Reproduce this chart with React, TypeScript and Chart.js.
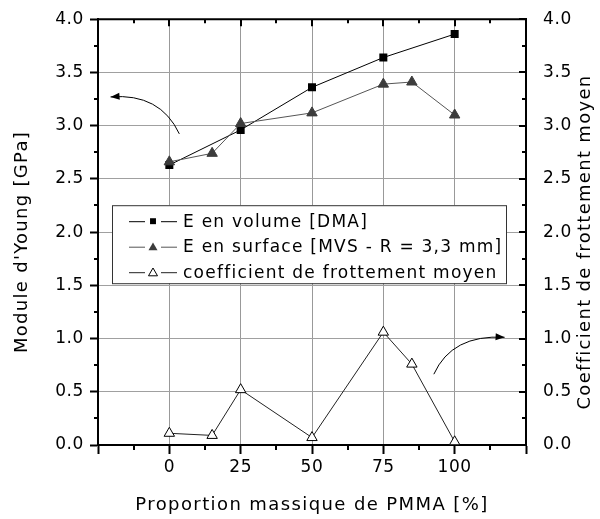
import React, { useEffect, useRef } from 'react';
import { Chart, registerables } from 'chart.js';
Chart.register(...registerables);

const FONT = "'DejaVu Sans', Verdana, sans-serif";

const dmaX = [0, 25, 50, 75, 100];
const dmaY = [2.63, 2.96, 3.36, 3.64, 3.86];
const surfX = [0, 15, 25, 50, 75, 85, 100];
const surfY = [2.66, 2.74, 3.02, 3.12, 3.39, 3.41, 3.1];
const coefX = [0, 15, 25, 50, 75, 85, 100];
const coefY = [0.11, 0.09, 0.52, 0.07, 1.06, 0.76, 0.03];
const xTickLabels = [0, 25, 50, 75, 100];
const seriesLabels = ['E en volume [DMA]', 'E en surface [MVS - R = 3,3 mm]', 'coefficient de frottement moyen'];
const xTitle = 'Proportion massique de PMMA [%]';
const yTitle = "Module d'Young [GPa]";
const y2Title = 'Coefficient de frottement moyen';

const TICK_SPACING = '0.6px';

function drawMarker(ctx: CanvasRenderingContext2D, kind: string, x: number, y: number, r: number) {
  ctx.beginPath();
  if (kind === 'rect') {
    const s = Math.SQRT1_2 * r;
    ctx.rect(x - s, y - s, 2 * s, 2 * s);
    ctx.fillStyle = '#000';
    ctx.fill();
    return;
  }
  let rad = 0;
  ctx.moveTo(x + Math.sin(rad) * r, y - Math.cos(rad) * r);
  rad += (2 * Math.PI) / 3;
  ctx.lineTo(x + Math.sin(rad) * r, y - Math.cos(rad) * r);
  rad += (2 * Math.PI) / 3;
  ctx.lineTo(x + Math.sin(rad) * r, y - Math.cos(rad) * r);
  ctx.closePath();
  if (kind === 'tri') {
    ctx.fillStyle = '#3c3c3c';
    ctx.fill();
  } else {
    ctx.fillStyle = '#fff';
    ctx.fill();
    ctx.lineWidth = 1;
    ctx.strokeStyle = '#000';
    ctx.stroke();
  }
}

function arrow(ctx: CanvasRenderingContext2D, p0: number[], c: number[], p1: number[]) {
  ctx.beginPath();
  ctx.moveTo(p0[0], p0[1]);
  ctx.quadraticCurveTo(c[0], c[1], p1[0], p1[1]);
  ctx.lineWidth = 1;
  ctx.strokeStyle = '#000';
  ctx.stroke();
  const ang = Math.atan2(p1[1] - c[1], p1[0] - c[0]);
  const L = 9, W = 3.5;
  ctx.beginPath();
  ctx.moveTo(p1[0], p1[1]);
  ctx.lineTo(p1[0] - L * Math.cos(ang) + W * Math.sin(ang), p1[1] - L * Math.sin(ang) - W * Math.cos(ang));
  ctx.lineTo(p1[0] - L * Math.cos(ang) - W * Math.sin(ang), p1[1] - L * Math.sin(ang) + W * Math.cos(ang));
  ctx.closePath();
  ctx.fillStyle = '#000';
  ctx.fill();
}

const decor = {
  id: 'decor',
  beforeLayout(chart: any) {
    chart.ctx.letterSpacing = TICK_SPACING;
  },
  beforeDraw(chart: any) {
    chart.ctx.letterSpacing = TICK_SPACING;
  },
  afterDraw(chart: any) {
    const { ctx, chartArea: ca, scales } = chart;
    const xs = scales.x;
    const ys = scales.y;
    ctx.save();
    ctx.strokeStyle = '#000';
    ctx.lineWidth = 2;
    // top border
    ctx.beginPath();
    ctx.moveTo(ca.left - 1, ca.top);
    ctx.lineTo(ca.right + 1, ca.top);
    ctx.stroke();
    // x minor / top ticks
    ctx.beginPath();
    for (let v = -25; v <= 125; v += 12.5) {
      const px = Math.round(xs.getPixelForValue(v));
      const major = v % 25 === 0;
      ctx.moveTo(px, ca.top);
      ctx.lineTo(px, ca.top + (major ? 7 : 4));
      if (!major) {
        ctx.moveTo(px, ca.bottom);
        ctx.lineTo(px, ca.bottom + 5);
      }
    }
    // y ticks
    for (let v = 0; v <= 4.001; v += 0.25) {
      const py = Math.round(ys.getPixelForValue(v));
      const major = Math.abs(v * 2 - Math.round(v * 2)) < 1e-6;
      if (!major) {
        ctx.moveTo(ca.left, py);
        ctx.lineTo(ca.left - 4, py);
      }
      ctx.moveTo(ca.right, py);
      ctx.lineTo(ca.right - (major ? 7 : 4), py);
    }
    ctx.stroke();

    // arrows
    const P = (x: number, y: number) => [xs.getPixelForValue(x), ys.getPixelForValue(y)];
    arrow(ctx, P(3.5, 2.923), P(-3.2, 3.307), P(-20.6, 3.27));
    arrow(ctx, P(92.7, 0.665), P(99, 1.04), P(117.5, 1.012));

    // legend
    const lx = ca.left + 14;
    const ly = ca.top + 186;
    const lw = 394;
    const lh = 78;
    ctx.fillStyle = '#fff';
    ctx.fillRect(lx, ly, lw, lh);
    ctx.lineWidth = 1;
    ctx.strokeStyle = '#333';
    ctx.strokeRect(lx + 0.5, ly + 0.5, lw, lh);
    const kinds = ['rect', 'tri', 'open'];
    const radii = [4.2, 5.2, 5.2];
    const lineCols = ['#000', '#555', '#222'];
    ctx.letterSpacing = '1.25px';
    ctx.font = `17px ${FONT}`;
    ctx.textBaseline = 'middle';
    ctx.textAlign = 'left';
    for (let i = 0; i < 3; i++) {
      const cy = ly + 16 + i * 25.5;
      ctx.beginPath();
      ctx.moveTo(lx + 17, cy + 0.5);
      ctx.lineTo(lx + 33, cy + 0.5);
      ctx.moveTo(lx + 49, cy + 0.5);
      ctx.lineTo(lx + 65, cy + 0.5);
      ctx.lineWidth = 1;
      ctx.strokeStyle = lineCols[i];
      ctx.stroke();
      drawMarker(ctx, kinds[i], lx + 41, cy + (i === 0 ? 0 : 1), radii[i]);
      ctx.fillStyle = '#000';
      ctx.fillText(seriesLabels[i], lx + 71, cy + 1);
    }

    // axis titles
    ctx.fillStyle = '#000';
    ctx.letterSpacing = '1.4px';
    ctx.font = `18px ${FONT}`;
    ctx.textAlign = 'center';
    ctx.textBaseline = 'middle';
    ctx.fillText(xTitle, (ca.left + ca.right) / 2, 505);
    ctx.letterSpacing = '1.3px';
    ctx.save();
    ctx.translate(22, 242);
    ctx.rotate(-Math.PI / 2);
    ctx.fillText(yTitle, 0, 0);
    ctx.restore();
    ctx.save();
    ctx.translate(585, 242);
    ctx.rotate(-Math.PI / 2);
    ctx.fillText(y2Title, 0, 0);
    ctx.restore();
    ctx.restore();
  },
};

const gridColX = (c: any) => (c.tick && (c.tick.value === -25 || c.tick.value === 125) ? 'rgba(0,0,0,0)' : '#999');
const gridColY = (c: any) => (c.tick && (Math.abs(c.tick.value) < 1e-6 || Math.abs(c.tick.value - 4) < 1e-6) ? 'rgba(0,0,0,0)' : '#a0a0a0');

export default function App() {
  const ref = useRef<HTMLCanvasElement>(null);
  useEffect(() => {
    if (!ref.current) return;
    const chart = new Chart(ref.current, {
      type: 'scatter',
      data: {
        datasets: [
          {
            label: seriesLabels[1],
            data: surfX.map((x, i) => ({ x, y: surfY[i] })),
            showLine: true,
            borderColor: '#555',
            borderWidth: 1,
            pointStyle: 'triangle',
            pointRadius: 6,
            pointBackgroundColor: '#3c3c3c',
            pointBorderColor: '#3c3c3c',
            pointBorderWidth: 1,
          },
          {
            label: seriesLabels[0],
            data: dmaX.map((x, i) => ({ x, y: dmaY[i] })),
            showLine: true,
            borderColor: '#000',
            borderWidth: 1,
            pointStyle: 'rect',
            pointRadius: 5.66,
            pointBackgroundColor: '#000',
            pointBorderColor: '#000',
            pointBorderWidth: 0,
          },
          {
            label: seriesLabels[2],
            data: coefX.map((x, i) => ({ x, y: coefY[i] })),
            showLine: true,
            borderColor: '#222',
            borderWidth: 1,
            pointStyle: 'triangle',
            pointRadius: 6,
            pointBackgroundColor: '#fff',
            pointBorderColor: '#000',
            pointBorderWidth: 1,
          },
        ],
      },
      options: {
        responsive: false,
        animation: false,
        devicePixelRatio: 1,
        events: [],
        layout: { padding: { top: 18, left: 0, right: 0, bottom: 0 } },
        plugins: { legend: { display: false }, tooltip: { enabled: false } },
        scales: {
          x: {
            type: 'linear',
            min: -25,
            max: 125,
            afterFit: (s: any) => { s.height = 74; },
            ticks: {
              stepSize: 25,
              autoSkip: false,
              maxRotation: 0,
              padding: 3,
              color: '#000',
              font: { family: FONT, size: 17 },
              callback: (v: any) => (xTickLabels.includes(Number(v)) ? String(v) : ''),
            },
            grid: { color: gridColX, lineWidth: 1, tickLength: 9, tickWidth: 2, tickColor: '#000' },
            border: { display: true, color: '#000', width: 2 },
          },
          y: {
            type: 'linear',
            position: 'left',
            min: 0,
            max: 4,
            afterFit: (s: any) => { s.width = 98; },
            ticks: {
              stepSize: 0.5,
              autoSkip: false,
              padding: 6,
              color: '#000',
              font: { family: FONT, size: 17 },
              callback: (v: any) => Number(v).toFixed(1),
            },
            grid: { color: gridColY, lineWidth: 1, tickLength: 8, tickWidth: 2, tickColor: '#000' },
            border: { display: true, color: '#000', width: 2 },
          },
          y2: {
            type: 'linear',
            position: 'right',
            min: 0,
            max: 4,
            afterFit: (s: any) => { s.width = 74; },
            ticks: {
              stepSize: 0.5,
              autoSkip: false,
              padding: 9,
              color: '#000',
              font: { family: FONT, size: 17 },
              callback: (v: any) => Number(v).toFixed(1),
            },
            grid: { display: false },
            border: { display: true, color: '#000', width: 2 },
          },
        },
      },
      plugins: [decor],
    } as any);
    return () => chart.destroy();
  }, []);
  return (
    <div style={{ position: 'absolute', left: 0, top: 0, width: 600, height: 519, background: '#fff' }}>
      <canvas ref={ref} width={600} height={519} style={{ display: 'block' }} />
    </div>
  );
}
